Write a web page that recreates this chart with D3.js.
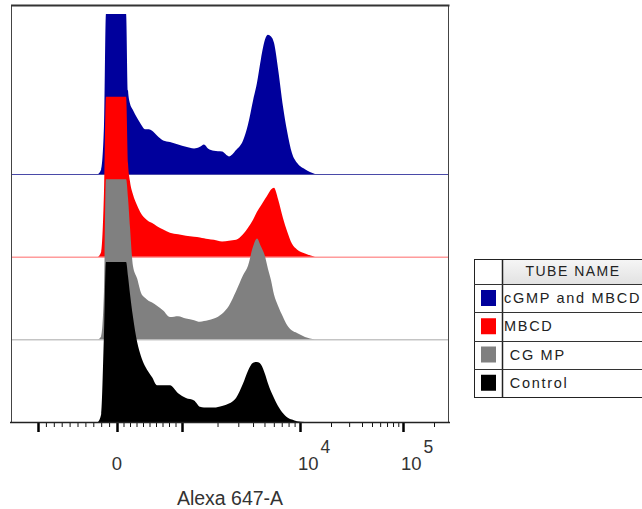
<!DOCTYPE html>
<html>
<head>
<meta charset="utf-8">
<script src="https://cdn.jsdelivr.net/npm/d3@7"></script>
<style>
  html, body { margin: 0; padding: 0; background: #fff; }
  svg { display: block; font-family: "Liberation Sans", Arial, sans-serif; }
</style>
</head>
<body>
<script>
// Tube names, front-to-back drawing order is the reverse of this list
const tubes = ["cGMP and MBCD", "MBCD", " CG MP", " Control"];
const tubeColors = ["#00009c", "#ff0000", "#808080", "#000000"];
const baselineColors = ["#4a4aa8", "#ff6a6a", "#a8a8a8", null];

// Fluorescence intensity (Alexa 647-A) of each histogram point
const intensity = [-240, -200, -165, -140, 0, 140, 170, 200, 245, 310, 370, 430, 490, 540, 615, 710,
  815, 940, 1080, 1265, 1420, 1535, 1660, 1865, 2185, 2500, 2870, 3290, 3625, 4000, 4320, 4670,
  5050, 5355, 5680, 6020, 6510, 7180, 7760, 8555, 9430, 11180, 13980];

// Cell counts, % of mode
const cgmpMbcd = [0, 3, 30, 100, 100, 100, 52, 44, 40, 35, 31, 28, 28, 27, 24, 21, 20, 18.5, 17, 16,
  17, 18.5, 16, 14.5, 14, 11, 15, 21, 31, 46, 57, 72, 84, 87, 86, 82, 66, 42, 27, 13, 7, 3, 0];
const mbcd = [0, 3, 40, 100, 100, 100, 58, 47, 39, 32, 27, 24, 22, 21, 19, 17, 15, 14, 13, 12.5,
  12, 11.5, 11, 10.5, 9.5, 10, 10.5, 14, 18, 23, 28, 32, 36, 39, 42, 43, 36, 24, 16, 8, 4.5, 2, 0];
const cgmp = [0, 2, 30, 100, 100, 100, 88, 70, 46, 38, 29, 26, 24, 23, 21, 18, 14, 14.5, 13, 12,
  11, 11.5, 12, 13, 16, 21, 30, 40, 46, 58, 63, 58, 52, 44, 37, 28, 21, 14, 9, 5.5, 4, 1.5, 0];
const control = [0, 5, 55, 100, 100, 100, 91, 80, 66, 50, 41, 35, 31, 28, 23, 23, 23, 18, 15, 13.5,
  9.5, 9, 9, 9, 10, 11.5, 15, 24, 32, 37, 37.5, 36, 30, 24, 19, 15, 10, 5.5, 3, 1.5, 0.5, 0, 0];
const seriesValues = [cgmpMbcd, mbcd, cgmp, control];

// Axis ticks
const majorTicks = [-1000, 0, 1000, 10000, 100000];
const minorTicks = [-900, -800, -700, -600, -500, -400, -300, -200, -100,
  100, 200, 300, 400, 500, 600, 700, 800, 900,
  2000, 3000, 4000, 5000, 6000, 7000, 8000, 9000,
  20000, 30000, 40000, 50000, 60000, 70000, 80000, 90000, 200000];
const tickLabels = [{ v: 0, base: "0", exp: "" }, { v: 10000, base: "10", exp: "4" }, { v: 100000, base: "10", exp: "5" }];
const axisTitle = "Alexa 647-A";
const legendTitle = "TUBE NAME";

// ---- layout ----
const W = 642, H = 509;
const frame = { left: 11, right: 449, top: 5, bottom: 422 };

// Biexponential-style display transform: linear within ±1000, log decades beyond
function display(v) {
  const a = Math.abs(v);
  return a <= 1000 ? v / 1000 : Math.sign(v) * (1 + Math.log10(a / 1000));
}
const xDisp = d3.scaleLinear().domain([-1, 0, 1, 2, 3]).range([38, 117, 182, 300, 403]);
const x = v => xDisp(display(v));

const yPct = d3.scaleLinear().domain([0, 100]).range([0, 160]);
const offset = d3.scalePoint().domain(tubes.slice().reverse()).range([frame.bottom, 174]);

const svg = d3.select("body").append("svg").attr("width", W).attr("height", H);

svg.append("defs").append("clipPath").attr("id", "plotClip")
  .append("rect")
  .attr("x", frame.left).attr("y", frame.top)
  .attr("width", frame.right - frame.left).attr("height", frame.bottom - frame.top);

const plot = svg.append("g").attr("clip-path", "url(#plotClip)");

tubes.forEach((t, i) => {
  const base = offset(t);
  const pts = intensity.map((v, k) => ({ v, c: seriesValues[i][k] }));
  const area = d3.area()
    .x(d => x(d.v))
    .y0(base)
    .y1(d => base - yPct(d.c))
    .curve(d3.curveMonotoneX);
  plot.append("path").datum(pts)
    .attr("d", area)
    .attr("fill", tubeColors[i]);
  if (baselineColors[i]) {
    plot.append("line")
      .attr("x1", frame.left).attr("x2", frame.right)
      .attr("y1", base + 0.5).attr("y2", base + 0.5)
      .attr("stroke", baselineColors[i]).attr("stroke-width", 1);
  }
});

// plot frame
svg.append("rect")
  .attr("x", frame.left + 0.5).attr("y", frame.top + 0.5)
  .attr("width", frame.right - frame.left - 1).attr("height", frame.bottom - frame.top)
  .attr("fill", "none").attr("stroke", "#444").attr("stroke-width", 1);
svg.append("line")
  .attr("x1", frame.left).attr("x2", frame.right + 0.5)
  .attr("y1", frame.top + 0.5).attr("y2", frame.top + 0.5)
  .attr("stroke", "#333").attr("stroke-width", 2);

// x axis: major and minor ticks
const axisMajor = d3.axisBottom(xDisp).tickValues(majorTicks.map(display)).tickSize(10).tickSizeOuter(0).tickFormat("");
const axisMinor = d3.axisBottom(xDisp).tickValues(minorTicks.map(display)).tickSize(5).tickSizeOuter(0).tickFormat("");
const gMinor = svg.append("g").attr("transform", `translate(0,${frame.bottom})`).call(axisMinor);
const gMajor = svg.append("g").attr("transform", `translate(0,${frame.bottom})`).call(axisMajor);
[gMinor, gMajor].forEach(g => g.select(".domain").remove());
gMinor.selectAll(".tick line").attr("stroke", "#111").attr("stroke-width", 1);
gMajor.selectAll(".tick line").attr("stroke", "#000").attr("stroke-width", 2.5);
svg.append("line")
  .attr("x1", frame.left - 1).attr("x2", frame.right + 1)
  .attr("y1", frame.bottom + 0.5).attr("y2", frame.bottom + 0.5)
  .attr("stroke", "#222").attr("stroke-width", 1.5);

// tick labels (powers of ten with raised exponents)
tickLabels.forEach(d => {
  const t = svg.append("text")
    .attr("y", 470)
    .attr("fill", "#333")
    .attr("font-size", 18.5);
  if (d.exp) {
    t.attr("x", x(d.v) - 2).attr("text-anchor", "start");
    t.append("tspan").text(d.base);
    t.append("tspan").attr("dx", 2).attr("dy", -17).attr("font-size", 17.5).text(d.exp);
  } else {
    t.attr("x", x(d.v)).attr("text-anchor", "middle").text(d.base);
  }
});

svg.append("text")
  .attr("x", 230).attr("y", 505)
  .attr("text-anchor", "middle")
  .attr("font-size", 19.5)
  .attr("fill", "#333")
  .text(axisTitle);

// ---- legend table ----
const lg = { left: 474, top: 259, swatchCol: 28, headerH: 25, rowH: 28.25, right: 650 };
const legend = svg.append("g");
const grad = svg.select("defs").append("linearGradient")
  .attr("id", "hdrGrad").attr("x1", 0).attr("x2", 0).attr("y1", 0).attr("y2", 1);
grad.append("stop").attr("offset", "0%").attr("stop-color", "#f6f6f6");
grad.append("stop").attr("offset", "100%").attr("stop-color", "#e2e2e2");

const tableBottom = lg.top + lg.headerH + lg.rowH * tubes.length;
legend.append("rect")
  .attr("x", lg.left + lg.swatchCol).attr("y", lg.top)
  .attr("width", lg.right - lg.left - lg.swatchCol).attr("height", lg.headerH)
  .attr("fill", "url(#hdrGrad)");
legend.append("rect")
  .attr("x", lg.left + 0.5).attr("y", lg.top + 0.5)
  .attr("width", lg.right - lg.left).attr("height", tableBottom - lg.top)
  .attr("fill", "none").attr("stroke", "#222").attr("stroke-width", 1);
legend.append("line")
  .attr("x1", lg.left + lg.swatchCol + 0.5).attr("x2", lg.left + lg.swatchCol + 0.5)
  .attr("y1", lg.top).attr("y2", tableBottom)
  .attr("stroke", "#222").attr("stroke-width", 1.5);
legend.append("text")
  .attr("x", 573).attr("y", lg.top + 17)
  .attr("text-anchor", "middle")
  .attr("font-size", 14).attr("letter-spacing", 1.5)
  .attr("fill", "#222")
  .text(legendTitle);

tubes.forEach((t, i) => {
  const y0 = lg.top + lg.headerH + lg.rowH * i;
  legend.append("line")
    .attr("x1", lg.left).attr("x2", lg.right)
    .attr("y1", Math.round(y0) + 0.5).attr("y2", Math.round(y0) + 0.5)
    .attr("stroke", "#333").attr("stroke-width", 1);
  legend.append("rect")
    .attr("x", lg.left + 7).attr("y", y0 + 6)
    .attr("width", 15).attr("height", 16)
    .attr("fill", tubeColors[i]);
  legend.append("text")
    .attr("x", lg.left + lg.swatchCol + 2).attr("y", y0 + 19)
    .attr("font-size", 14.5).attr("letter-spacing", 1.7)
    .style("white-space", "pre")
    .attr("fill", "#222")
    .text(t);
});
</script>
</body>
</html>
